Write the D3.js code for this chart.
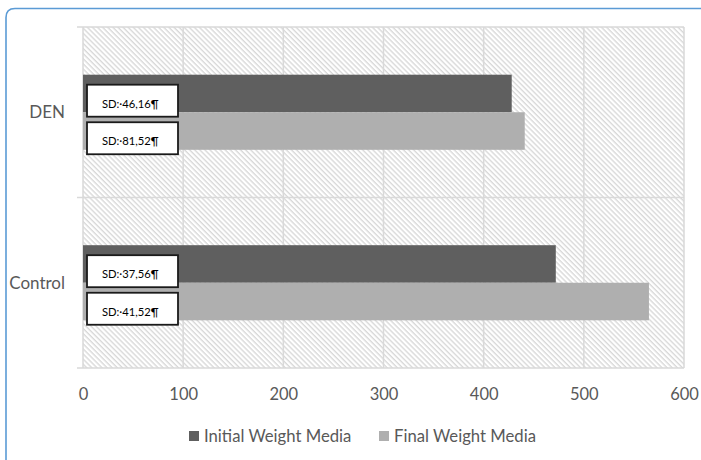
<!DOCTYPE html>
<html>
<head>
<meta charset="utf-8">
<script src="https://cdn.jsdelivr.net/npm/d3@7"></script>
<style>
  html, body { margin: 0; padding: 0; background: #fff; }
  svg { display: block; font-family: Lato, "Open Sans", sans-serif; }
</style>
</head>
<body>
<svg id="chart" width="701" height="460"></svg>
<script>
const categories = ["DEN", "Control"];
const seriesNames = ["Initial Weight Media", "Final Weight Media"];
const initialWeight = [428, 472];
const finalWeight = [441, 565];
const sdInitial = ["SD:·46,16¶", "SD:·37,56¶"];
const sdFinal = ["SD:·81,52¶", "SD:·41,52¶"];
const xTicks = [0, 100, 200, 300, 400, 500, 600];
const colors = ["#5f5f5f", "#afafaf"];

const svg = d3.select("#chart");

// outer frame (blue, rounded top-left)
svg.append("path")
  .attr("d", "M6,470 L6,17.5 Q6,8.5 15,8.5 L710,8.5")
  .attr("fill", "none")
  .attr("stroke", "#5b9bd5").attr("stroke-width", 1.6);

const x = d3.scaleLinear().domain([0, 600]).range([83, 684]);
const y = d3.scaleBand().domain(categories).range([27, 368]);
const inner = d3.scaleBand().domain(seriesNames)
  .range([0, y.bandwidth()]).paddingInner(0).paddingOuter(1.27);

// hatch pattern
const defs = svg.append("defs");
const pat = defs.append("pattern")
  .attr("id", "hatch").attr("patternUnits", "userSpaceOnUse")
  .attr("width", 3.6).attr("height", 3.6)
  .attr("patternTransform", "rotate(45)");
pat.append("rect").attr("width", 3.6).attr("height", 3.6).attr("fill", "#ffffff");
pat.append("line").attr("x1", 0).attr("y1", 0.7).attr("x2", 3.6).attr("y2", 0.7)
  .attr("stroke", "#d6d6d6").attr("stroke-width", 1.3);

svg.append("rect")
  .attr("x", x(0)).attr("y", y.range()[0])
  .attr("width", x(600) - x(0)).attr("height", y.range()[1] - y.range()[0])
  .attr("fill", "url(#hatch)");

// vertical gridlines
svg.append("g").selectAll("line").data(xTicks).join("line")
  .attr("x1", d => x(d)).attr("x2", d => x(d))
  .attr("y1", y.range()[0]).attr("y2", y.range()[1])
  .attr("stroke", "#d9d9d9").attr("stroke-width", 1.5);

// category boundary lines (with ticks extending left)
const bounds = [y.range()[0], y(categories[1]), y.range()[1]];
svg.append("g").selectAll("line").data(bounds).join("line")
  .attr("x1", x(0) - 6).attr("x2", x(600))
  .attr("y1", d => d).attr("y2", d => d)
  .attr("stroke", "#d9d9d9").attr("stroke-width", 1.5);

// bars
const data = categories.map((c, i) => ({
  cat: c,
  vals: [
    { s: seriesNames[0], v: initialWeight[i], sd: sdInitial[i], c: colors[0] },
    { s: seriesNames[1], v: finalWeight[i], sd: sdFinal[i], c: colors[1] }
  ]
}));

const groups = svg.append("g").selectAll("g").data(data).join("g")
  .attr("transform", d => `translate(0,${y(d.cat)})`);

groups.selectAll("rect.bar").data(d => d.vals).join("rect")
  .attr("class", "bar")
  .attr("x", x(0)).attr("y", d => inner(d.s))
  .attr("width", d => x(d.v) - x(0)).attr("height", inner.bandwidth())
  .attr("fill", d => d.c);

// SD annotation boxes
const boxes = groups.selectAll("g.sd").data(d => d.vals).join("g")
  .attr("class", "sd")
  .attr("transform", d => `translate(${x(0) + 4},${inner(d.s) + 10})`);
boxes.append("rect")
  .attr("width", 91).attr("height", 32)
  .attr("fill", "#fff").attr("stroke", "#1a1a1a").attr("stroke-width", 1.8);
boxes.append("text")
  .attr("x", 15).attr("y", 23)
  .attr("font-size", 11.2).attr("fill", "#000")
  .text(d => d.sd);

// x-axis tick labels
const xAxis = d3.axisBottom(x).tickValues(xTicks).tickSize(0).tickPadding(0);
const gx = svg.append("g").attr("transform", `translate(0,${y.range()[1]})`).call(xAxis);
gx.select(".domain").remove();
gx.selectAll("text")
  .attr("y", 32).attr("dy", 0)
  .attr("font-size", 16.5).attr("fill", "#595959")
  .attr("font-family", "Lato, sans-serif");

// y-axis category labels
const yAxis = d3.axisLeft(y).tickSize(0).tickPadding(0);
const gy = svg.append("g").attr("transform", `translate(65,0)`).call(yAxis);
gy.select(".domain").remove();
gy.selectAll("text")
  .attr("x", 0).attr("dy", "0.35em")
  .attr("font-size", 17).attr("fill", "#595959")
  .attr("font-family", "Lato, sans-serif");

// legend
const legendX = [189, 379];
const legend = svg.append("g").selectAll("g").data(seriesNames).join("g")
  .attr("transform", (d, i) => `translate(${legendX[i]},431)`);
legend.append("rect").attr("width", 10).attr("height", 10)
  .attr("fill", (d, i) => colors[i]);
legend.append("text").attr("x", 15).attr("y", 11)
  .attr("font-size", 16.7).attr("fill", "#595959")
  .text(d => d);
</script>
</body>
</html>
